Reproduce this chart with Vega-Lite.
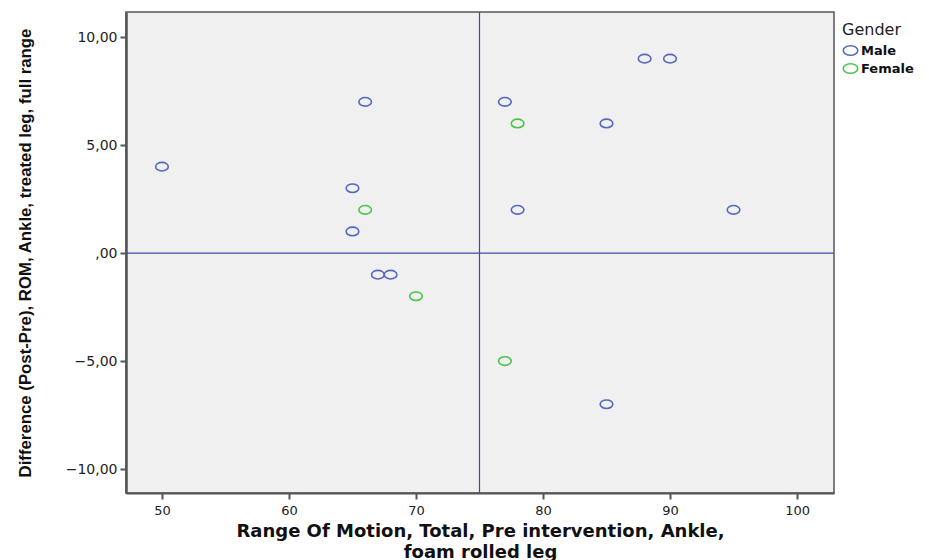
{
  "$schema": "https://vega.github.io/schema/vega-lite/v6.json",
  "width": 708,
  "height": 481,
  "autosize": {"type": "none"},
  "padding": {"left": 126, "top": 12, "right": 95, "bottom": 67},
  "background": "white",
  "config": {
    "view": {"fill": "#f0f0f0", "stroke": "#555555", "strokeWidth": 1.5},
    "font": "DejaVu Sans"
  },
  "datasets": {
    "pts": [
      {"pre": 50, "diff": 4, "Gender": "Male"},
      {"pre": 66, "diff": 7, "Gender": "Male"},
      {"pre": 65, "diff": 3, "Gender": "Male"},
      {"pre": 65, "diff": 1, "Gender": "Male"},
      {"pre": 67, "diff": -1, "Gender": "Male"},
      {"pre": 68, "diff": -1, "Gender": "Male"},
      {"pre": 77, "diff": 7, "Gender": "Male"},
      {"pre": 78, "diff": 2, "Gender": "Male"},
      {"pre": 85, "diff": 6, "Gender": "Male"},
      {"pre": 88, "diff": 9, "Gender": "Male"},
      {"pre": 90, "diff": 9, "Gender": "Male"},
      {"pre": 95, "diff": 2, "Gender": "Male"},
      {"pre": 85, "diff": -7, "Gender": "Male"},
      {"pre": 66, "diff": 2, "Gender": "Female"},
      {"pre": 70, "diff": -2, "Gender": "Female"},
      {"pre": 78, "diff": 6, "Gender": "Female"},
      {"pre": 77, "diff": -5, "Gender": "Female"}
    ],
    "vref": [{"x": 75}],
    "href": [{"y": 0}]
  },
  "layer": [
    {
      "data": {"name": "vref"},
      "mark": {"type": "rule", "color": "#3d4f9c", "strokeWidth": 1.2},
      "encoding": {
        "x": {"field": "x", "type": "quantitative", "scale": {"domain": [47.17, 102.91], "nice": false, "zero": false}}
      }
    },
    {
      "data": {"name": "href"},
      "mark": {"type": "rule", "color": "#3d4f9c", "strokeWidth": 1.2},
      "encoding": {
        "y": {"field": "y", "type": "quantitative", "scale": {"domain": [-11.11, 11.16], "nice": false, "zero": false}}
      }
    },
    {
      "data": {"name": "pts"},
      "mark": {
        "type": "point",
        "filled": false,
        "shape": "M -1 0 A 1 0.68 0 1 0 1 0 A 1 0.68 0 1 0 -1 0 Z",
        "size": 160,
        "strokeWidth": 1.6,
        "opacity": 1
      },
      "encoding": {
        "x": {
          "field": "pre",
          "type": "quantitative",
          "scale": {"domain": [47.17, 102.91], "nice": false, "zero": false},
          "axis": {
            "values": [50, 60, 70, 80, 90, 100],
            "grid": false,
            "domainColor": "#555555",
            "domainWidth": 2,
            "tickColor": "#555555",
            "tickWidth": 2,
            "tickSize": 6,
            "labelFont": "DejaVu Sans",
            "labelFontSize": 13,
            "labelColor": "#222222",
            "labelPadding": 5,
            "title": ["Range Of Motion, Total, Pre intervention, Ankle,", "foam rolled leg"],
            "titleFont": "DejaVu Sans",
            "titleFontSize": 18,
            "titleFontWeight": "bold",
            "titleColor": "#111111",
            "titlePadding": 5,
            "titleLineHeight": 21
          }
        },
        "y": {
          "field": "diff",
          "type": "quantitative",
          "scale": {"domain": [-11.11, 11.16], "nice": false, "zero": false},
          "axis": {
            "values": [-10, -5, 0, 5, 10],
            "grid": false,
            "labelExpr": "datum.value == 0 ? ',00' : replace(format(datum.value, '.2f'), '.', ',')",
            "domainColor": "#555555",
            "domainWidth": 2.5,
            "tickColor": "#555555",
            "tickWidth": 2,
            "tickSize": 6,
            "labelFont": "DejaVu Sans",
            "labelFontSize": 14,
            "labelColor": "#222222",
            "labelPadding": 3,
            "title": "Difference (Post-Pre), ROM, Ankle, treated leg, full range",
            "titleFont": "Liberation Sans",
            "titleFontSize": 16.8,
            "titleFontWeight": "bold",
            "titleColor": "#111111",
            "titlePadding": 31
          }
        },
        "color": {
          "field": "Gender",
          "type": "nominal",
          "scale": {"domain": ["Male", "Female"], "range": ["#5468c0", "#4cc44c"]},
          "legend": {
            "orient": "none",
            "legendX": 716,
            "legendY": 10,
            "title": "Gender",
            "titleFont": "DejaVu Sans",
            "titleFontSize": 16,
            "titleFontWeight": "normal",
            "titleColor": "#222222",
            "titlePadding": 4,
            "labelFont": "DejaVu Sans",
            "labelFontSize": 13,
            "labelFontWeight": "bold",
            "labelColor": "#111111",
            "labelOffset": 2,
            "rowPadding": 1,
            "symbolType": "M -1 0 A 1 0.65 0 1 0 1 0 A 1 0.65 0 1 0 -1 0 Z",
            "symbolSize": 210,
            "symbolStrokeWidth": 1.6,
            "symbolFillColor": "transparent"
          }
        }
      }
    }
  ]
}
